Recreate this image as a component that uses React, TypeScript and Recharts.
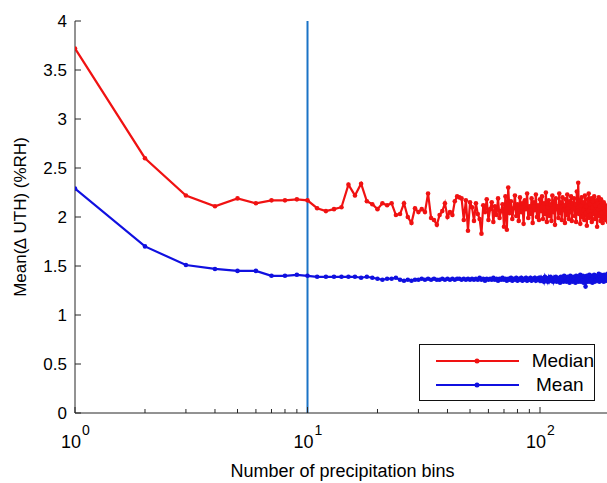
import { LineChart, Line, XAxis, YAxis, ReferenceLine, Legend } from 'recharts';

// number of precipitation bins (x)
const bins = [
  1, 2, 3, 4, 5, 6, 7, 8, 9, 10, 11, 12, 13, 14, 15, 16, 17, 18, 19, 20,
  21, 22, 23, 24, 25, 26, 27, 28, 29, 30, 31, 32, 33, 34, 35, 36, 37, 38, 39, 40,
  41, 42, 43, 44, 45, 46, 47, 48, 49, 50, 51, 52, 53, 54, 55, 56, 57, 58, 59, 60,
  61, 62, 63, 64, 65, 66, 67, 68, 69, 70, 71, 72, 73, 74, 75, 76, 77, 78, 79, 80,
  81, 82, 83, 84, 85, 86, 87, 88, 89, 90, 91, 92, 93, 94, 95, 96, 97, 98, 99, 100,
  101, 102, 103, 104, 105, 106, 107, 108, 109, 110, 111, 112, 113, 114, 115, 116, 117, 118, 119, 120,
  121, 122, 123, 124, 125, 126, 127, 128, 129, 130, 131, 132, 133, 134, 135, 136, 137, 138, 139, 140,
  141, 142, 143, 144, 145, 146, 147, 148, 149, 150, 151, 152, 153, 154, 155, 156, 157, 158, 159, 160,
  161, 162, 163, 164, 165, 166, 167, 168, 169, 170, 171, 172, 173, 174, 175, 176, 177, 178, 179, 180,
  181, 182, 183, 184, 185, 186, 187, 188, 189, 190, 191, 192, 193, 194, 195, 196, 197, 198, 199, 200,
];

// Median of delta UTH (%RH)
const medianUTH = [
  3.72, 2.60, 2.22, 2.11, 2.19, 2.14, 2.17, 2.17, 2.18, 2.17,
  2.09, 2.06, 2.08, 2.10, 2.33, 2.22, 2.34, 2.16, 2.13, 2.08,
  2.14, 2.12, 2.14, 2.02, 2.03, 2.14, 2.00, 1.94, 2.09, 2.05,
  2.08, 2.05, 2.24, 1.99, 1.97, 1.92, 2.02, 2.06, 2.14, 2.00,
  2.05, 2.02, 2.16, 2.21, 2.20, 2.19, 1.97, 2.17, 1.86, 2.15,
  2.10, 1.96, 2.14, 2.03, 1.98, 1.83, 2.12, 2.05, 2.18, 1.97,
  2.08, 2.15, 1.95, 2.11, 2.02, 2.19, 1.99, 2.06, 2.13, 1.90,
  2.21, 1.87, 2.30, 2.04, 2.16, 1.98, 2.09, 2.22, 2.01, 2.13,
  1.96, 2.20, 2.05, 2.14, 1.93, 2.17, 2.08, 2.24, 1.99, 2.11,
  2.03, 2.19, 1.94, 2.15, 2.07, 2.23, 2.00, 2.12, 1.97, 2.18,
  2.06, 2.21, 1.98, 2.14, 2.03, 2.25, 1.95, 2.10, 2.17, 2.01,
  2.13, 1.96, 2.22, 2.05, 2.16, 1.92, 2.19, 2.08, 2.11, 1.99,
  2.24, 2.04, 2.15, 1.97, 2.20, 2.07, 2.12, 1.94, 2.18, 2.02,
  2.23, 2.09, 1.98, 2.16, 2.05, 2.21, 1.96, 2.14, 2.08, 2.19,
  2.01, 2.13, 1.95, 2.26, 2.06, 2.35, 2.03, 2.17, 1.93, 2.12,
  2.20, 2.00, 2.15, 2.07, 1.97, 2.22, 2.04, 2.11, 1.91, 2.18,
  2.06, 2.24, 1.99, 2.13, 2.02, 2.19, 1.95, 2.10, 2.16, 2.03,
  2.21, 1.98, 2.12, 2.05, 2.17, 1.90, 2.14, 2.08, 2.20, 2.01,
  2.11, 1.96, 2.18, 2.04, 2.13, 1.94, 2.09, 2.15, 1.99, 2.06,
  2.12, 1.97, 2.10, 2.03, 2.08, 1.95, 2.07, 2.02, 2.05, 2.04,
];

// Mean of delta UTH (%RH)
const meanUTH = [
  2.29, 1.70, 1.51, 1.47, 1.45, 1.45, 1.40, 1.40, 1.41, 1.40,
  1.39, 1.39, 1.39, 1.39, 1.39, 1.39, 1.38, 1.39, 1.38, 1.37,
  1.36, 1.37, 1.37, 1.38, 1.36, 1.35, 1.36, 1.35, 1.36, 1.36,
  1.37, 1.36, 1.37, 1.36, 1.37, 1.36, 1.36, 1.37, 1.36, 1.37,
  1.36, 1.37, 1.36, 1.37, 1.37, 1.36, 1.37, 1.36, 1.37, 1.36,
  1.37, 1.36, 1.37, 1.36, 1.38, 1.36, 1.37, 1.35, 1.37, 1.36,
  1.37, 1.36, 1.38, 1.36, 1.37, 1.35, 1.37, 1.36, 1.38, 1.36,
  1.37, 1.35, 1.37, 1.36, 1.38, 1.35, 1.37, 1.36, 1.38, 1.35,
  1.37, 1.36, 1.38, 1.35, 1.37, 1.36, 1.38, 1.35, 1.37, 1.36,
  1.38, 1.35, 1.37, 1.36, 1.38, 1.35, 1.37, 1.36, 1.38, 1.35,
  1.38, 1.35, 1.37, 1.34, 1.39, 1.36, 1.37, 1.34, 1.38, 1.35,
  1.39, 1.35, 1.37, 1.34, 1.38, 1.36, 1.39, 1.34, 1.37, 1.35,
  1.38, 1.33, 1.39, 1.36, 1.37, 1.34, 1.40, 1.35, 1.38, 1.34,
  1.39, 1.36, 1.37, 1.33, 1.40, 1.35, 1.38, 1.34, 1.39, 1.36,
  1.38, 1.33, 1.40, 1.35, 1.37, 1.34, 1.39, 1.36, 1.41, 1.34,
  1.38, 1.35, 1.40, 1.33, 1.39, 1.36, 1.29, 1.37, 1.40, 1.34,
  1.39, 1.35, 1.41, 1.34, 1.38, 1.36, 1.40, 1.33, 1.39, 1.35,
  1.41, 1.34, 1.38, 1.36, 1.40, 1.35, 1.39, 1.37, 1.42, 1.34,
  1.39, 1.36, 1.41, 1.35, 1.40, 1.37, 1.38, 1.34, 1.41, 1.36,
  1.40, 1.35, 1.39, 1.37, 1.42, 1.36, 1.40, 1.38, 1.41, 1.37,
];

const xTicks = [1, 2, 3, 4, 5, 6, 7, 8, 9, 10, 20, 30, 40, 50, 60, 70, 80, 90, 100, 200];
const xMajor = [1, 10, 100];
const yTicks = [0, 0.5, 1, 1.5, 2, 2.5, 3, 3.5, 4];

const data = bins.map((n, i) => ({ n, median: medianUTH[i], mean: meanUTH[i] }));

const FONT = 'Arial, "Liberation Sans", Helvetica, sans-serif';
const AXIS = '#262626';
const RED = '#f01212';
const BLUE = '#1010e0';

const BottomTick = (props: any) => {
  const { x, y, payload } = props;
  const exp = xMajor.indexOf(payload.value);
  const len = exp >= 0 ? 6 : 4;
  return (
    <g>
      <line x1={x} y1={y} x2={x} y2={y - len} stroke={AXIS} />
      {exp >= 0 && (
        <text x={x - 14} y={y + 35} fontSize={18} fontFamily={FONT} fill="#000">
          10
          <tspan dx={1} dy={-13} fontSize={14}>{exp}</tspan>
        </text>
      )}
    </g>
  );
};

const TopTick = (props: any) => {
  const { x, y, payload } = props;
  const len = xMajor.includes(payload.value) ? 6 : 4;
  return <line x1={x} y1={y} x2={x} y2={y + len} stroke={AXIS} />;
};

const LeftTick = (props: any) => {
  const { x, y, payload } = props;
  return (
    <g>
      <line x1={x} y1={y} x2={x + 6} y2={y} stroke={AXIS} />
      <text x={x - 8} y={y} textAnchor="end" dominantBaseline="central" fontSize={17} fontFamily={FONT} fill="#000">
        {payload.value}
      </text>
    </g>
  );
};

const RightTick = (props: any) => {
  const { x, y } = props;
  return <line x1={x} y1={y} x2={x - 6} y2={y} stroke={AXIS} />;
};

const YTitle = (props: any) => {
  const { viewBox } = props;
  const cx = viewBox.x + 20;
  const cy = viewBox.y + viewBox.height / 2;
  return (
    <text x={cx} y={cy} transform={`rotate(-90 ${cx} ${cy})`} textAnchor="middle" dominantBaseline="central"
      fontSize={17} fontFamily={FONT} fill="#000">
      Mean(∆ UTH) (%RH)
    </text>
  );
};

const XTitle = (props: any) => {
  const { viewBox } = props;
  return (
    <text x={viewBox.x + viewBox.width / 2} y={viewBox.y + 64} textAnchor="middle" fontSize={18} fontFamily={FONT} fill="#000">
      Number of precipitation bins
    </text>
  );
};

const LegendBox = () => {
  const rows = [
    { name: 'Median', color: RED },
    { name: 'Mean', color: BLUE },
  ];
  return (
    <div style={{ border: '1px solid #111', background: '#fff', width: 176, height: 57, boxSizing: 'border-box', paddingTop: 4, fontFamily: FONT }}>
      {rows.map((r) => (
        <div key={r.name} style={{ display: 'flex', alignItems: 'center', height: 24 }}>
          <svg width={104} height={10} style={{ marginLeft: 12 }}>
            <line x1={4} y1={5} x2={87} y2={5} stroke={r.color} strokeWidth={2.2} />
            <circle cx={45} cy={5} r={2.5} fill={r.color} />
          </svg>
          <span style={{ fontSize: 19, color: '#000' }}>{r.name}</span>
        </div>
      ))}
    </div>
  );
};

export default function App() {
  return (
    <div style={{ position: 'fixed', left: 0, top: 0, width: 607, height: 483, overflow: 'hidden', background: '#fff' }}>
      <LineChart width={620} height={483} data={data} margin={{ top: 21, right: 10, bottom: 0, left: 0 }}>
        <XAxis dataKey="n" type="number" scale="log" domain={[1, 200]} ticks={xTicks} interval={0} allowDataOverflow
          height={70} tickSize={0} tickMargin={0} tickLine={false} tick={<BottomTick />} stroke={AXIS}
          label={<XTitle />} />
        <XAxis xAxisId="top" orientation="top" dataKey="n" type="number" scale="log" domain={[1, 200]} ticks={xTicks}
          interval={0} allowDataOverflow height={0} tickSize={0} tickMargin={0} tickLine={false} tick={<TopTick />} stroke={AXIS} />
        <YAxis domain={[0, 4]} ticks={yTicks} interval={0} width={75} tickSize={0} tickMargin={0} tickLine={false}
          tick={<LeftTick />} stroke={AXIS} label={<YTitle />} />
        <YAxis yAxisId="right" orientation="right" domain={[0, 4]} ticks={yTicks} interval={0} width={0} tickSize={0}
          tickMargin={0} tickLine={false} tick={<RightTick />} stroke={AXIS} />
        <ReferenceLine x={10} stroke="#1a73c6" strokeWidth={2} />
        <Line type="linear" dataKey="median" name="Median" stroke={RED} strokeWidth={2.2}
          dot={{ r: 2.3, fill: RED, stroke: RED, strokeWidth: 0 }} isAnimationActive={false} />
        <Line type="linear" dataKey="mean" name="Mean" stroke={BLUE} strokeWidth={2.2}
          dot={{ r: 2.3, fill: BLUE, stroke: BLUE, strokeWidth: 0 }} isAnimationActive={false} />
        <Legend layout="horizontal" verticalAlign="middle" align="center" content={<LegendBox />}
          wrapperStyle={{ left: 419, top: 344, width: 176, height: 57 }} />
      </LineChart>
    </div>
  );
}
